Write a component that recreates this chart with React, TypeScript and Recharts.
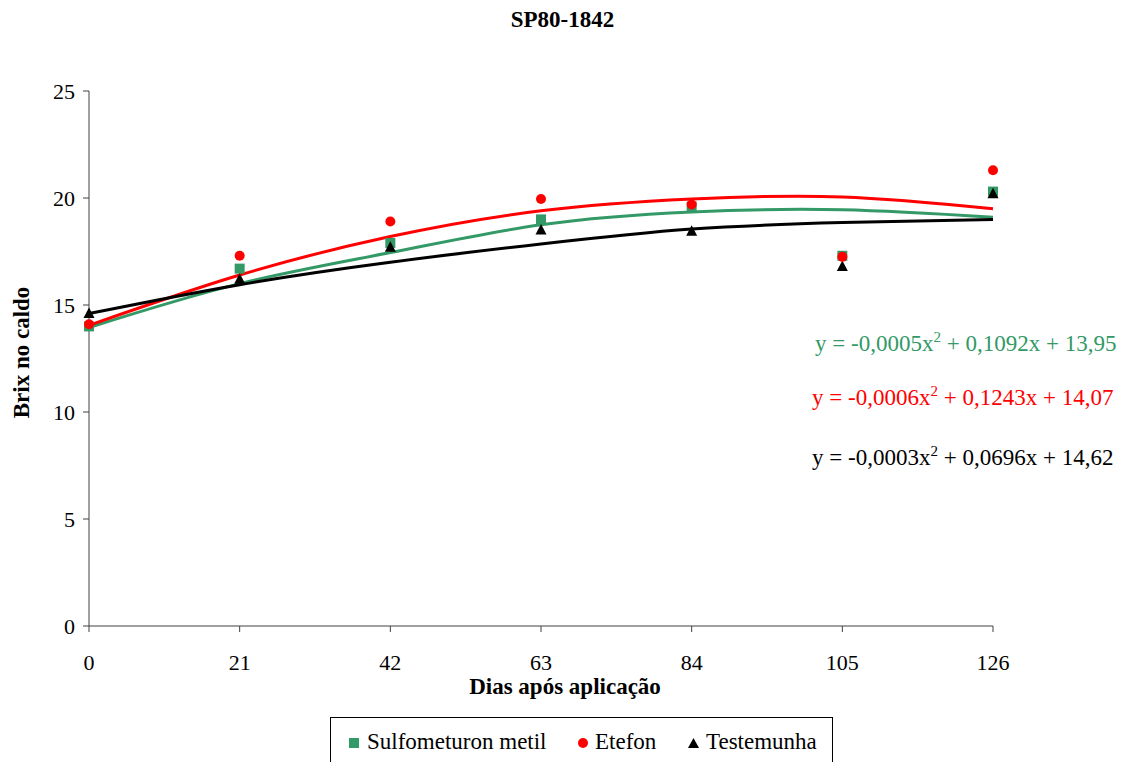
import { ComposedChart, Scatter, Line, XAxis, YAxis } from "recharts";

const days = [0, 21, 42, 63, 84, 105, 126];

// observed Brix values
const sulfometuron = [14.0, 16.7, 17.9, 19.0, 19.6, 17.3, 20.3];
const etefon = [14.1, 17.3, 18.9, 19.95, 19.7, 17.25, 21.3];
const testemunha = [14.6, 16.2, 17.7, 18.5, 18.45, 16.8, 20.2];

// polynomial trend lines
const sulfometuronFit = [13.95, 16.0, 17.45, 18.75, 19.35, 19.45, 19.1];
const etefonFit = [14.05, 16.4, 18.2, 19.4, 19.95, 20.05, 19.5];
const testemunhaFit = [14.6, 15.95, 17.0, 17.85, 18.55, 18.85, 19.0];

const xTicks = [0, 21, 42, 63, 84, 105, 126];
const yTicks = [0, 5, 10, 15, 20, 25];

const GREEN = "#339966";
const RED = "#ff0000";
const BLACK = "#000000";
const FONT = "'Liberation Serif', 'Times New Roman', serif";

const data = days.map((d, i) => ({
  x: d,
  sulf: sulfometuron[i],
  etef: etefon[i],
  test: testemunha[i],
  sulfFit: sulfometuronFit[i],
  etefFit: etefonFit[i],
  testFit: testemunhaFit[i],
}));

const SquareDot = (props: any) => {
  const { cx, cy } = props;
  if (cx == null || cy == null) return null;
  return <rect x={cx - 5} y={cy - 5} width={10} height={10} fill={GREEN} />;
};

const CircleDot = (props: any) => {
  const { cx, cy } = props;
  if (cx == null || cy == null) return null;
  return <circle cx={cx} cy={cy} r={5} fill={RED} />;
};

const TriangleDot = (props: any) => {
  const { cx, cy } = props;
  if (cx == null || cy == null) return null;
  return (
    <polygon
      points={`${cx},${cy - 6} ${cx - 5.5},${cy + 4.5} ${cx + 5.5},${cy + 4.5}`}
      fill={BLACK}
    />
  );
};

const legendText = {
  position: "absolute" as const,
  top: 12,
  fontFamily: FONT,
  fontSize: 23,
  lineHeight: "24px",
  color: "#000",
  whiteSpace: "nowrap" as const,
};

const ChartLegend = () => (
  <div
    style={{
      position: "absolute",
      left: 330,
      top: 717,
      width: 503,
      height: 60,
      border: "1px solid #000",
      boxSizing: "border-box",
    }}
  >
    <svg style={{ position: "absolute", left: 18, top: 20 }} width={10} height={10}>
      <rect width={10} height={10} fill={GREEN} />
    </svg>
    <span style={{ ...legendText, left: 36 }}>Sulfometuron metil</span>
    <svg style={{ position: "absolute", left: 247, top: 20 }} width={10} height={10}>
      <circle cx={5} cy={5} r={5} fill={RED} />
    </svg>
    <span style={{ ...legendText, left: 264 }}>Etefon</span>
    <svg style={{ position: "absolute", left: 357, top: 20 }} width={11} height={10}>
      <polygon points="5.5,0 0,10 11,10" fill={BLACK} />
    </svg>
    <span style={{ ...legendText, left: 375 }}>Testemunha</span>
  </div>
);

const Equation = ({ color, top, left, a, b, c }: any) => (
  <div
    style={{
      position: "absolute",
      left,
      top,
      fontFamily: FONT,
      fontSize: 23,
      lineHeight: "26px",
      color,
      whiteSpace: "nowrap",
    }}
  >
    y = {a}x<sup style={{ fontSize: 15, verticalAlign: "9px", lineHeight: 0 }}>2</sup> + {b}x + {c}
  </div>
);

export default function App() {
  return (
    <div
      style={{
        position: "absolute",
        left: 0,
        top: 0,
        width: 1133,
        height: 762,
        background: "#fff",
        overflow: "hidden",
      }}
    >
      <div
        style={{
          position: "absolute",
          top: 6,
          left: 0,
          width: 1125,
          textAlign: "center",
          fontFamily: FONT,
          fontWeight: "bold",
          fontSize: 23,
          lineHeight: "28px",
        }}
      >
        SP80-1842
      </div>
      <ComposedChart
        width={1133}
        height={762}
        data={data}
        margin={{ top: 91, right: 140, bottom: 106, left: 29 }}
      >
        <XAxis
          dataKey="x"
          type="number"
          domain={[0, 126]}
          ticks={xTicks}
          interval={0}
          height={30}
          stroke="#404040"
          tickSize={6}
          tickMargin={22}
          tick={{ fill: "#000", fontFamily: FONT, fontSize: 22 }}
          label={{
            value: "Dias após aplicação",
            position: "insideBottom",
            offset: -38,
            dx: 24,
            fill: "#000",
            fontFamily: FONT,
            fontSize: 23,
            fontWeight: "bold",
          }}
        />
        <YAxis
          type="number"
          domain={[0, 25]}
          ticks={yTicks}
          interval={0}
          width={60}
          stroke="#404040"
          tickSize={6}
          tickMargin={8}
          tick={{ fill: "#000", fontFamily: FONT, fontSize: 22 }}
          label={{
            value: "Brix no caldo",
            angle: -90,
            position: "insideLeft",
            offset: -8,
            dy: -6,
            style: { textAnchor: "middle" },
            fill: "#000",
            fontFamily: FONT,
            fontSize: 23,
            fontWeight: "bold",
          }}
        />
        <Line
          dataKey="sulfFit"
          type="natural"
          stroke={GREEN}
          strokeWidth={3}
          dot={false}
          activeDot={false}
          isAnimationActive={false}
        />
        <Line
          dataKey="etefFit"
          type="natural"
          stroke={RED}
          strokeWidth={3}
          dot={false}
          activeDot={false}
          isAnimationActive={false}
        />
        <Line
          dataKey="testFit"
          type="natural"
          stroke={BLACK}
          strokeWidth={3}
          dot={false}
          activeDot={false}
          isAnimationActive={false}
        />
        <Scatter dataKey="sulf" shape={SquareDot} isAnimationActive={false} />
        <Scatter dataKey="test" shape={TriangleDot} isAnimationActive={false} />
        <Scatter dataKey="etef" shape={CircleDot} isAnimationActive={false} />
      </ComposedChart>
      <ChartLegend />
      <Equation color={GREEN} left={815} top={331} a="-0,0005" b="0,1092" c="13,95" />
      <Equation color={RED} left={812} top={385} a="-0,0006" b="0,1243" c="14,07" />
      <Equation color={BLACK} left={812} top={445} a="-0,0003" b="0,0696" c="14,62" />
    </div>
  );
}
